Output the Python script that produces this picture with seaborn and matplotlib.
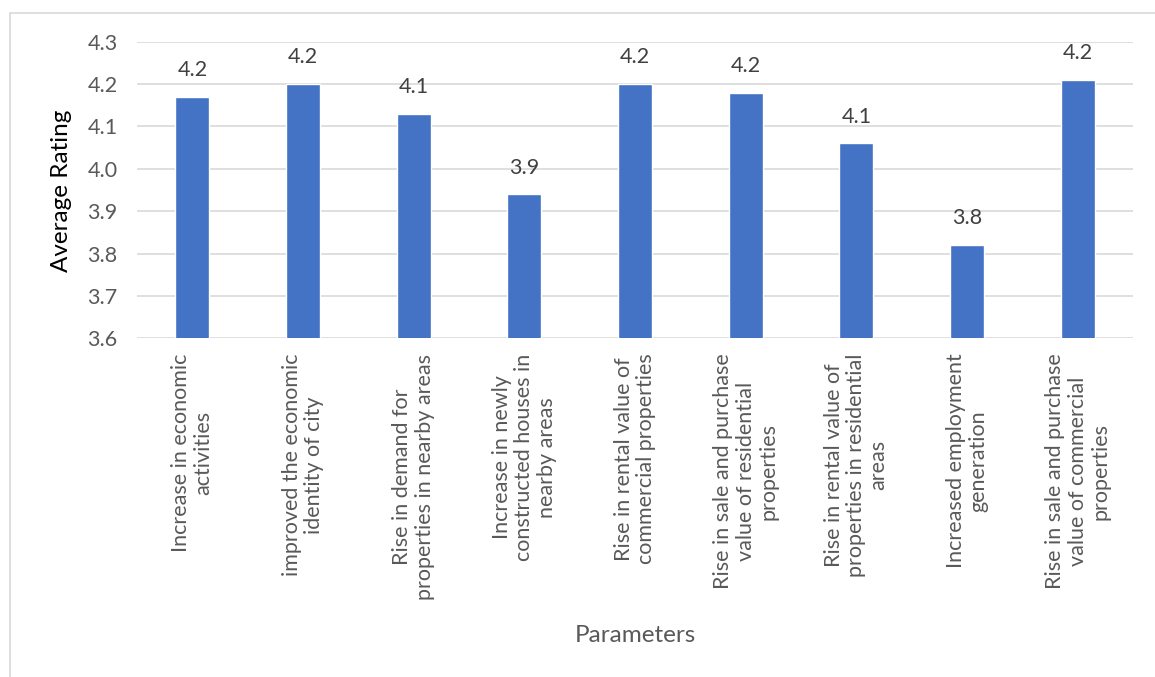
import matplotlib
matplotlib.use("Agg")
import matplotlib.pyplot as plt
import seaborn as sns
import pandas as pd
from matplotlib.patches import Rectangle

# data
parameters = [
    "Increase in economic\nactivities",
    "improved the economic\nidentity of city",
    "Rise in demand for\nproperties in nearby areas",
    "Increase in newly\nconstructed houses in\nnearby areas",
    "Rise in rental value of\ncommercial properties",
    "Rise in sale and purchase\nvalue of residential\nproperties",
    "Rise in rental value of\nproperties in residential\nareas",
    "Increased employment\ngeneration",
    "Rise in sale and purchase\nvalue of commercial\nproperties",
]
ratings = [4.17, 4.20, 4.13, 3.94, 4.20, 4.18, 4.06, 3.82, 4.21]
y_ticks = [3.6, 3.7, 3.8, 3.9, 4.0, 4.1, 4.2, 4.3]

sns.set_style("white")
plt.rcParams["font.family"] = ["Lato", "DejaVu Sans"]

text_gray = "#595959"
grid_gray = "#d9d9d9"

W, H = 1155, 677
fig = plt.figure(figsize=(W / 100, H / 100), dpi=100)
ax = fig.add_axes([137 / W, 1 - 338.3 / H, (1133 - 137) / W, (338.3 - 41.7) / H])

df = pd.DataFrame({"Parameter": parameters, "Rating": ratings})
sns.barplot(data=df, x="Parameter", y="Rating", color="#4472C4",
            saturation=1, width=0.31, ax=ax)

ax.set_ylim(3.6, 4.3)
ax.set_yticks(y_ticks)
ax.set_yticklabels([f"{t:.1f}" for t in y_ticks], fontsize=15.5, color=text_gray)
ax.set_xticks(range(len(parameters)))
ax.set_xticklabels(parameters, rotation=90, ha="center", va="top",
                   multialignment="center", fontsize=15.5, color=text_gray,
                   linespacing=1.15)
ax.tick_params(axis="both", length=0)
ax.tick_params(axis="x", pad=11)
ax.tick_params(axis="y", pad=14)

ax.yaxis.grid(True, color=grid_gray, lw=1.2)
ax.set_axisbelow(True)
for s in ax.spines.values():
    s.set_visible(False)

ax.bar_label(ax.containers[0], labels=[f"{v:.1f}" for v in ratings],
             padding=12, fontsize=15.5, color="#404040")

ax.set_xlabel("")
ax.set_ylabel("")
fig.text(635 / W, 1 - 635 / H, "Parameters", ha="center", va="center",
         fontsize=17.5, color=text_gray)
fig.text(61 / W, 1 - 191 / H, "Average Rating", ha="center", va="center",
         rotation=90, fontsize=17.5, color="black")

# chart area border
fig.patches.append(Rectangle((10 / W, -0.1), 1.2, 1.1 - 12.7 / H,
                             transform=fig.transFigure, fill=False,
                             edgecolor=grid_gray, lw=1.2))

fig.savefig("out.png", dpi=100)
